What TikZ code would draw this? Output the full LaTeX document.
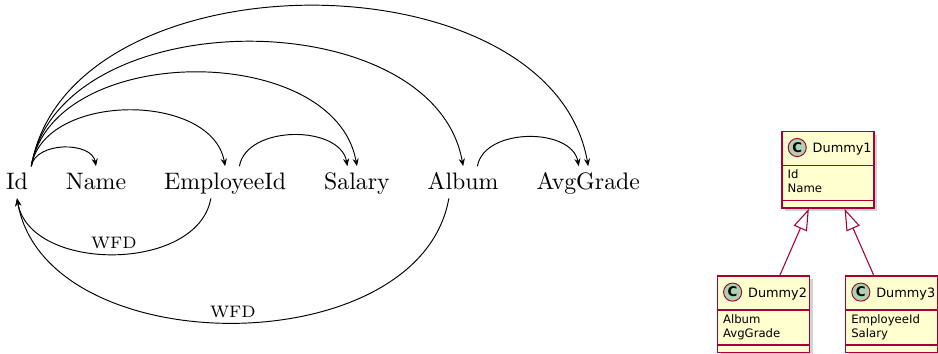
\documentclass[tikz,border=0pt]{standalone}
\usepackage{fontspec}
\newfontfamily\umlfont{DejaVu Sans}
\usetikzlibrary{positioning,arrows.meta,shadows}
\definecolor{umlred}{HTML}{A80036}
\definecolor{umlfill}{HTML}{FEFECE}
\definecolor{umlgreen}{HTML}{ADD1B2}

\begin{document}
\begin{tikzpicture}[
            x=0.42pt, y=0.42pt,
            word/.style={anchor=base, text height=1.5ex, text depth=0pt},
            dep/.style={-{Stealth[length=3.2pt, width=2.6pt]}, bend left=80},
            wfd/.style={midway, above, font=\scriptsize, inner sep=2pt},
            cls/.style={draw=umlred, fill=umlfill, line width=0.6pt,
                minimum width=38.6pt, minimum height=32.3pt, inner sep=0pt,
                drop shadow={shadow xshift=1.4pt, shadow yshift=-1.4pt, fill=black!35}},
            circ/.style={circle, draw=umlred, fill=umlgreen, line width=0.4pt,
                minimum size=7.6pt, inner sep=0pt, font=\umlfont\bfseries\fontsize{5.6}{6}\selectfont},
            title/.style={anchor=base west, inner sep=0pt, font=\umlfont\fontsize{5.4}{6}\selectfont},
            attr/.style={anchor=base west, inner sep=0pt, font=\umlfont\fontsize{4.9}{6}\selectfont},
            sep/.style={draw=umlred, line width=0.6pt},
            inh/.style={draw=umlred, line width=0.45pt, -{Triangle[open, length=9pt, width=6pt]}}
        ]
        \useasboundingbox (0,0) rectangle (938,-354);
        % attributes
        \node[word] (id) at (17,-190) {Id};
        \node[word, base right=8.9pt of id] (name) {Name};
        \node[word, base right=8.9pt of name] (emp) {EmployeeId};
        \node[word, base right=8.9pt of emp] (sal) {Salary};
        \node[word, base right=8.9pt of sal] (alb) {Album};
        \node[word, base right=8.9pt of alb] (avg) {AvgGrade};
        % dependencies
        \draw[dep] ([xshift=6pt]id.north) to (name.north);
        \draw[dep] ([xshift=6pt]id.north) to (emp.north);
        \draw[dep] ([xshift=6pt]id.north) to (sal.north);
        \draw[dep] ([xshift=6pt]id.north) to (alb.north);
        \draw[dep] ([xshift=6pt]id.north) to (avg.north);
        \draw[dep] ([xshift=6pt]emp.north) to ([xshift=-4pt]sal.north);
        \draw[dep] ([xshift=6pt]alb.north) to ([xshift=-4pt]avg.north);
        \draw[dep] ([xshift=-6pt]emp.south) to node[wfd] (w1) {WFD} (id.south);
        \draw[dep] ([xshift=-6pt]alb.south) to node[wfd] (w2) {WFD} (id.south);
        % classes
        \foreach \n/\x/\y/\a/\b in {1/827.9/-169.7/Id/Name,
                2/763.3/-314.3/Album/AvgGrade,
                3/891.5/-314.3/EmployeeId/Salary} {
            \node[cls] (d\n) at (\x,\y) {};
            \node[circ] (c\n) at ([shift={(16,-17)}]d\n.north west) {C};
            \node[title] (t\n) at ([shift={(31,-22)}]d\n.north west) {Dummy\n};
            \draw[sep] ([shift={(0,-35)}]d\n.north west) -- ([shift={(0,-35)}]d\n.north east);
            \draw[sep] ([shift={(0,-70)}]d\n.north west) -- ([shift={(0,-70)}]d\n.north east);
            \node[attr] (a\n) at ([shift={(6,-48)}]d\n.north west) {\a};
            \node[attr] (b\n) at ([shift={(6,-62)}]d\n.north west) {\b};
        }
        \draw[inh] ([xshift=7pt]d2.north) -- ([xshift=-8pt]d1.south);
        \draw[inh] ([xshift=-7.5pt]d3.north) -- ([xshift=7pt]d1.south);
    \end{tikzpicture}
\end{document}
